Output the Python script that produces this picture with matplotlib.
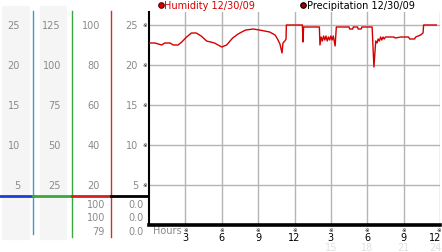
import matplotlib
matplotlib.use("Agg")
import matplotlib.pyplot as plt
from matplotlib import transforms

# humidity readings for 12/30/09 (hour of day, percent)
hum_hours = [0, 0.5, 0.77, 1.04, 1.3, 1.73, 2.0, 2.4, 2.7, 3.1, 3.5, 3.9, 4.3, 4.75,
             5.4, 6.0, 6.4, 6.9, 7.35, 7.8, 8.0, 8.6, 9.1, 9.95, 10.4, 10.6, 10.8,
             10.97, 11.05, 11.2, 11.3, 11.33, 12.65, 12.7, 12.75, 14.05, 14.1, 14.2,
             14.3, 14.4, 14.5, 14.6, 14.7, 14.8, 14.9, 15.0, 15.1, 15.2, 15.35, 15.45,
             16.5, 16.55, 16.8, 16.85, 17.2, 17.25, 17.5, 17.55, 18.4, 18.55, 18.7,
             18.8, 18.9, 19.0, 19.1, 19.2, 19.3, 19.4, 19.5, 20.2, 20.3, 20.8, 21.4,
             21.5, 21.9, 22.0, 22.4, 22.6, 22.65, 23.7]
hum_values = [91, 91, 90.5, 90, 91, 91, 90, 90, 91.5, 94, 96, 96, 94.5, 92,
              91, 89, 90, 93.5, 95.5, 97, 97.5, 98, 97.5, 96.5, 95, 93, 90.5,
              86, 91, 92, 93, 100, 100, 91.5, 99, 99, 90, 94,
              92, 94.5, 92.5, 94.5, 92, 94, 92.5, 94.5, 92.5, 94.5, 89.5, 99,
              99, 98, 98, 99, 99, 98, 98, 99, 99, 79, 92,
              91, 93, 92, 94, 92.5, 94, 93, 94, 94, 93.5, 94, 94,
              93, 93, 94, 95, 96, 100, 100]

# precipitation for the day (inches)
precip_hours = [0, 24]
precip_values = [0.0, 0.0]

# scale columns at the left
scale_ticks = [5, 10, 15, 20, 25]
col1_labels = ['5', '10', '15', '20', '25']
col2_labels = ['25', '50', '75', '100', '125']
col3_labels = ['20', '40', '60', '80', '100']
col4_labels = ['5', '10', '15', '20', '25']
col3_current = ['100', '100', '79']
col4_current = ['0.0', '0.0', '0.0']

hour_ticks = [3, 6, 9, 12, 15, 18, 21, 24]
hour_labels = ['3', '6', '9', '12', '3', '6', '9', '12']
hour_labels_24 = ['', '', '', '', '15', '18', '21', '24']

W, H = 442, 253
fig = plt.figure(figsize=(W / 100, H / 100), dpi=100)

# decoration layer in pixel units
deco = fig.add_axes([0, 0, 1, 1])
deco.set_xlim(0, W)
deco.set_ylim(H, 0)
deco.axis('off')

ax = fig.add_axes([149 / W, (H - 226) / H, 291 / W, 213 / H])
ax.set_xlim(0, 24)
ax.set_ylim(0, 213 / 8)
for s in ['top', 'right', 'bottom']:
    ax.spines[s].set_visible(False)
ax.spines['left'].set_linewidth(1.5)
ax.set_xticks(hour_ticks)
ax.set_yticks(scale_ticks)
ax.tick_params(length=0, labelbottom=False, labelleft=False)
ax.grid(True, color='#b4b4b4', linewidth=1)
ax.set_axisbelow(True)

grey = '#8a8a8a'
fs = 7

# humidity on a percent axis (x4 of the main scale)
hax = ax.twinx()
lo, hi = ax.get_ylim()
hax.set_ylim(lo * 4, hi * 4)
hax.axis('off')
hax.plot(hum_hours, hum_values, color='#d40000', linewidth=1)
ax.plot(precip_hours, precip_values, color='black', linewidth=2.6, clip_on=False, zorder=5)

# gray backgrounds and column separators
deco.add_patch(plt.Rectangle((2, 7), 27, 233, color='#f5f5f5', zorder=0))
deco.add_patch(plt.Rectangle((40, 7), 26, 233, color='#f5f5f5', zorder=0))
deco.plot([33, 33], [12, 235], color='#3a9ac8', linewidth=1)
deco.plot([72, 72], [12, 238], color='#3aa83a', linewidth=1)
deco.plot([111, 111], [12, 238], color='#c83232', linewidth=1)
deco.plot([0, 33], [197, 197], color='#1c3fd8', linewidth=2)
deco.plot([33, 72], [197, 197], color='#3aa83a', linewidth=2)
deco.plot([72, 111], [197, 197], color='#d42020', linewidth=2)
deco.plot([111, 149], [197, 197], color='black', linewidth=2)

ytr = transforms.blended_transform_factory(deco.transData, ax.transData)
for labels, xr in [(col1_labels, 20), (col2_labels, 61), (col3_labels, 100), (col4_labels, 138)]:
    for v, lab in zip(scale_ticks, labels):
        deco.text(xr, v, lab, transform=ytr, ha='right', va='center', fontsize=fs, color=grey)
for v in scale_ticks:
    deco.text(145, v, '\u203b', transform=ytr, ha='center', va='center', fontsize=4, color='black')

for i, (a, b) in enumerate(zip(col3_current, col4_current)):
    y = 205 + i * 13.5
    deco.text(105, y, a, ha='right', va='center', fontsize=fs, color=grey)
    deco.text(144, y, b, ha='right', va='center', fontsize=fs, color=grey)

# hour axis labels
xtr = transforms.blended_transform_factory(ax.transData, deco.transData)
deco.text(153, 231.5, 'Hours', ha='left', va='center', fontsize=fs, color=grey)
for h, lab, lab24 in zip(hour_ticks, hour_labels, hour_labels_24):
    last = h == hour_ticks[-1]
    ha = 'right' if last else 'center'
    x = h + (0.1 if last else 0)
    deco.text(h - (0.1 if last else 0), 231, '\u203b', transform=xtr, ha='center', va='center',
              fontsize=4, color='black')
    deco.text(x, 238.5, lab, transform=xtr, ha=ha, va='center', fontsize=fs, color='black')
    deco.text(x, 248.5, lab24, transform=xtr, ha=ha, va='center', fontsize=fs, color='#e0e0e0')

# legend
deco.scatter([160.5], [6], s=16, color='#d40000', edgecolors='#600000', linewidths=0.8)
deco.text(164, 6, 'Humidity 12/30/09', ha='left', va='center', fontsize=fs, color='#d40000')
deco.scatter([302.5], [6], s=16, color='#a00000', edgecolors='black', linewidths=0.8)
deco.text(307, 6, 'Precipitation 12/30/09', ha='left', va='center', fontsize=fs, color='black')

fig.savefig('out.png', dpi=100)
